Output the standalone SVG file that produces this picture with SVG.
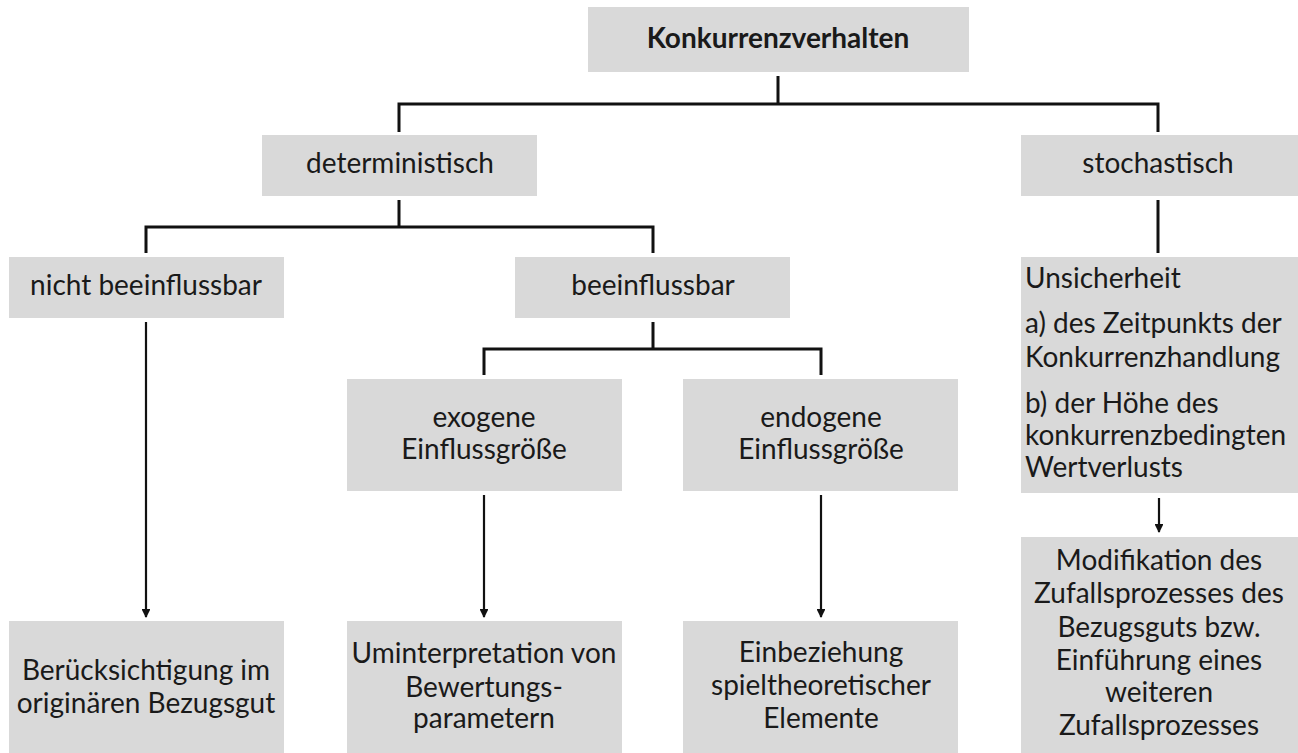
<svg xmlns="http://www.w3.org/2000/svg" width="1298" height="753" viewBox="0 0 1298 753">
<defs>
<style>
.box{fill:#d9d9d9;}
text{font-family:Lato,"Liberation Sans",sans-serif;font-size:28px;fill:#1a1a1a;}
.c{text-anchor:middle;}
.b{font-weight:bold;}
.ln{fill:none;stroke:#111;stroke-width:3;}
.ar{fill:none;stroke:#111;stroke-width:2.2;}
</style>
<marker id="ah" viewBox="0 0 10 10" refX="9" refY="5" markerWidth="4" markerHeight="4" orient="auto" markerUnits="strokeWidth">
<path d="M0,0 L10,5 L0,10 z" fill="#111"/>
</marker>
</defs>
<rect width="1298" height="753" fill="#fff"/>
<g id="connectors">
<path class="ln" d="M778,76 V104 M399,132 V104 H1158 V132"/>
<path class="ln" d="M399,200 V227 M146,253 V227 H653 V253"/>
<path class="ln" d="M653,322 V349 M484,375 V349 H821 V375"/>
<path class="ln" d="M1158,200 V253"/>
<path class="ar" d="M146,322 V617" marker-end="url(#ah)"/>
<path class="ar" d="M484,495 V617" marker-end="url(#ah)"/>
<path class="ar" d="M821,495 V617" marker-end="url(#ah)"/>
<path class="ar" d="M1159,498 V532" marker-end="url(#ah)"/>
</g>
<g id="n-root"><rect class="box" x="588" y="7" width="381" height="65"/><text class="c b" x="778" y="48">Konkurrenzverhalten</text></g>
<g id="n-det"><rect class="box" x="262" y="135" width="275" height="61"/><text class="c" x="400" y="173">deterministisch</text></g>
<g id="n-sto"><rect class="box" x="1021" y="135" width="277" height="61"/><text class="c" x="1158" y="173">stochastisch</text></g>
<g id="n-nicht"><rect class="box" x="9" y="257" width="275" height="61"/><text class="c" x="146" y="295">nicht beeinflussbar</text></g>
<g id="n-beein"><rect class="box" x="515" y="257" width="275" height="61"/><text class="c" x="653" y="295">beeinflussbar</text></g>
<g id="n-unsich"><rect class="box" x="1021" y="257" width="277" height="236"/>
<text x="1025" y="288">Unsicherheit</text>
<text x="1025" y="333">a) des Zeitpunkts der</text>
<text x="1025" y="367">Konkurrenzhandlung</text>
<text x="1025" y="413">b) der Höhe des</text>
<text x="1025" y="445">konkurrenzbedingten</text>
<text x="1025" y="477">Wertverlusts</text></g>
<g id="n-exo"><rect class="box" x="347" y="379" width="275" height="112"/><text class="c" x="484" y="427">exogene</text><text class="c" x="484" y="459">Einflussgröße</text></g>
<g id="n-endo"><rect class="box" x="683" y="379" width="275" height="112"/><text class="c" x="821" y="427">endogene</text><text class="c" x="821" y="459">Einflussgröße</text></g>
<g id="n-beruck"><rect class="box" x="9" y="621" width="275" height="132"/><text class="c" x="146" y="680">Berücksichtigung im</text><text class="c" x="146" y="713">originären Bezugsgut</text></g>
<g id="n-umint"><rect class="box" x="347" y="621" width="275" height="132"/><text class="c" x="484" y="663">Uminterpretation von</text><text class="c" x="484" y="697">Bewertungs-</text><text class="c" x="484" y="728">parametern</text></g>
<g id="n-einbez"><rect class="box" x="683" y="621" width="275" height="132"/><text class="c" x="821" y="662">Einbeziehung</text><text class="c" x="821" y="695">spieltheoretischer</text><text class="c" x="821" y="728">Elemente</text></g>
<g id="n-modif"><rect class="box" x="1021" y="537" width="277" height="216"/>
<text class="c" x="1159" y="570">Modifikation des</text>
<text class="c" x="1159" y="603">Zufallsprozesses des</text>
<text class="c" x="1159" y="637">Bezugsguts bzw.</text>
<text class="c" x="1159" y="670">Einführung eines</text>
<text class="c" x="1159" y="702">weiteren</text>
<text class="c" x="1159" y="735">Zufallsprozesses</text></g>
</svg>
